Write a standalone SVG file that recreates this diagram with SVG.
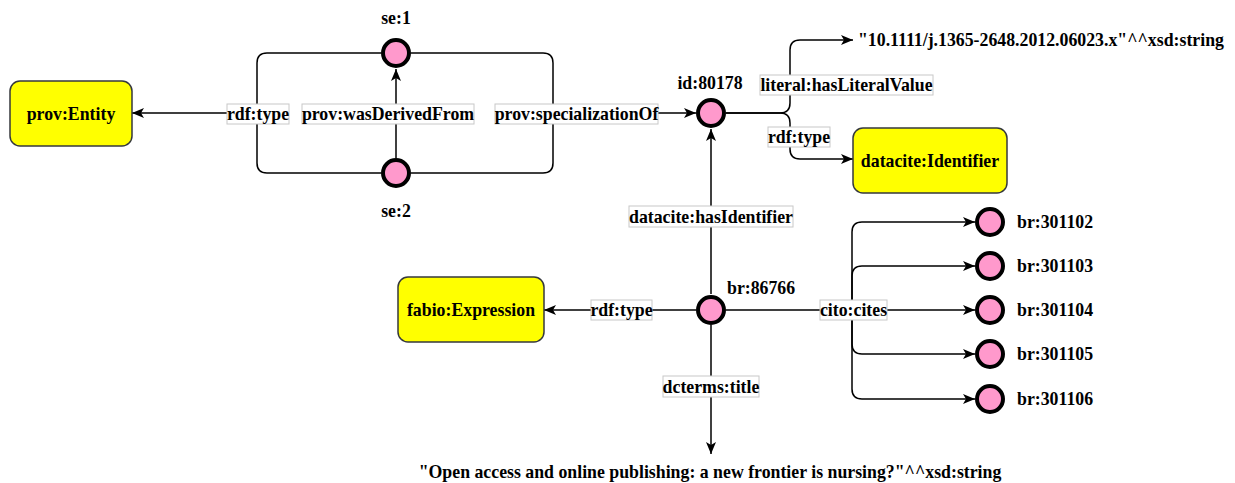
<svg xmlns="http://www.w3.org/2000/svg" width="1235" height="483" viewBox="0 0 1235 483">
<style>
text{font-family:"Liberation Serif","Times New Roman",serif;font-weight:bold;font-size:17.8px;fill:#000}
.c{text-anchor:middle}
.node circle{fill:#FF99CC;stroke:#000;stroke-width:4}
.cls rect{fill:#FFFF00;stroke:#36393d;stroke-width:1.5}
.edge{fill:none;stroke:#000;stroke-width:1.5}
.lbl rect{fill:#fff;stroke:#c8c8c8;stroke-width:1}
</style>
<defs>
<marker id="arr" viewBox="0 0 12 10" refX="12" refY="5" markerWidth="12" markerHeight="10" markerUnits="userSpaceOnUse" orient="auto">
<path d="M0,0 L12,5 L0,10 L3,5 Z" fill="#000"/>
</marker>
</defs>
<rect width="1235" height="483" fill="#fff"/>
<g id="connectors">
<path class="edge" d="M381,53 L267,53 Q257,53 257,63 L257,113 L132,113" marker-end="url(#arr)"/>
<path class="edge" d="M381,173 L267,173 Q257,173 257,163 L257,113"/>
<path class="edge" d="M396,158 L396,69" marker-end="url(#arr)"/>
<path class="edge" d="M411,53 L543,53 Q553,53 553,63 L553,113 L696,113" marker-end="url(#arr)"/>
<path class="edge" d="M411,173 L543,173 Q553,173 553,163 L553,113"/>
<path class="edge" d="M726,113 L780,113 Q790,113 790,103 L790,50 Q790,40 800,40 L853,40" marker-end="url(#arr)"/>
<path class="edge" d="M726,113 L780,113 Q790,113 790,123 L790,149 Q790,159 800,159 L853,159" marker-end="url(#arr)"/>
<path class="edge" d="M711,294 L711,129" marker-end="url(#arr)"/>
<path class="edge" d="M696,310 L544,310" marker-end="url(#arr)"/>
<path class="edge" d="M711,325 L711,454" marker-end="url(#arr)"/>
<path class="edge" d="M726,310 L852,310 L852,232 Q852,222 862,222 L975,222" marker-end="url(#arr)"/>
<path class="edge" d="M852,310 L852,276 Q852,266 862,266 L975,266" marker-end="url(#arr)"/>
<path class="edge" d="M852,310 L975,310" marker-end="url(#arr)"/>
<path class="edge" d="M852,310 L852,344 Q852,354 862,354 L975,354" marker-end="url(#arr)"/>
<path class="edge" d="M852,310 L852,389 Q852,399 862,399 L975,399" marker-end="url(#arr)"/>
<g class="lbl">
<rect x="227" y="104" width="62" height="20"/><text class="c" x="258" y="120">rdf:type</text>
<rect x="302" y="104" width="172" height="20"/><text class="c" x="388" y="120">prov:wasDerivedFrom</text>
<rect x="495" y="104" width="163" height="20"/><text class="c" x="576.5" y="120">prov:specializationOf</text>
<rect x="760" y="75" width="173" height="20"/><text class="c" x="846.5" y="91">literal:hasLiteralValue</text>
<rect x="768" y="127" width="62" height="20"/><text class="c" x="799" y="143">rdf:type</text>
<rect x="629" y="206" width="164" height="21"/><text class="c" x="711" y="222.5">datacite:hasIdentifier</text>
<rect x="591" y="300" width="61" height="20"/><text class="c" x="621.5" y="316">rdf:type</text>
<rect x="820" y="300" width="67" height="20"/><text class="c" x="853.5" y="316">cito:cites</text>
<rect x="663" y="376" width="96" height="21"/><text class="c" x="711" y="392.5">dcterms:title</text>
</g>
</g>
<g id="prov-entity" class="cls"><rect x="10" y="81" width="122" height="65" rx="10"/><text class="c" x="71" y="119.5">prov:Entity</text></g>
<g id="datacite-identifier" class="cls"><rect x="853" y="128" width="154" height="65" rx="10"/><text class="c" x="930" y="166.5">datacite:Identifier</text></g>
<g id="fabio-expression" class="cls"><rect x="398" y="277" width="146" height="65" rx="10"/><text class="c" x="471" y="315.5">fabio:Expression</text></g>
<g id="se1" class="node"><circle cx="396" cy="53" r="13"/><text class="c" x="396" y="24">se:1</text></g>
<g id="se2" class="node"><circle cx="396" cy="173" r="13"/><text class="c" x="396" y="217">se:2</text></g>
<g id="id80178" class="node"><circle cx="711" cy="113" r="13"/><text class="c" x="710" y="89">id:80178</text></g>
<g id="br86766" class="node"><circle cx="711" cy="310" r="13"/><text x="727" y="294">br:86766</text></g>
<g id="br301102" class="node"><circle cx="990" cy="222" r="13"/><text x="1017" y="228">br:301102</text></g>
<g id="br301103" class="node"><circle cx="990" cy="266" r="13"/><text x="1017" y="272">br:301103</text></g>
<g id="br301104" class="node"><circle cx="990" cy="310" r="13"/><text x="1017" y="316">br:301104</text></g>
<g id="br301105" class="node"><circle cx="990" cy="354" r="13"/><text x="1017" y="360">br:301105</text></g>
<g id="br301106" class="node"><circle cx="990" cy="399" r="13"/><text x="1017" y="405">br:301106</text></g>
<g id="doi-literal"><text x="858" y="46">"10.1111/j.1365-2648.2012.06023.x"^^xsd:string</text></g>
<g id="title-literal"><text class="c" x="710" y="478">"Open access and online publishing: a new frontier is nursing?"^^xsd:string</text></g>
</svg>
